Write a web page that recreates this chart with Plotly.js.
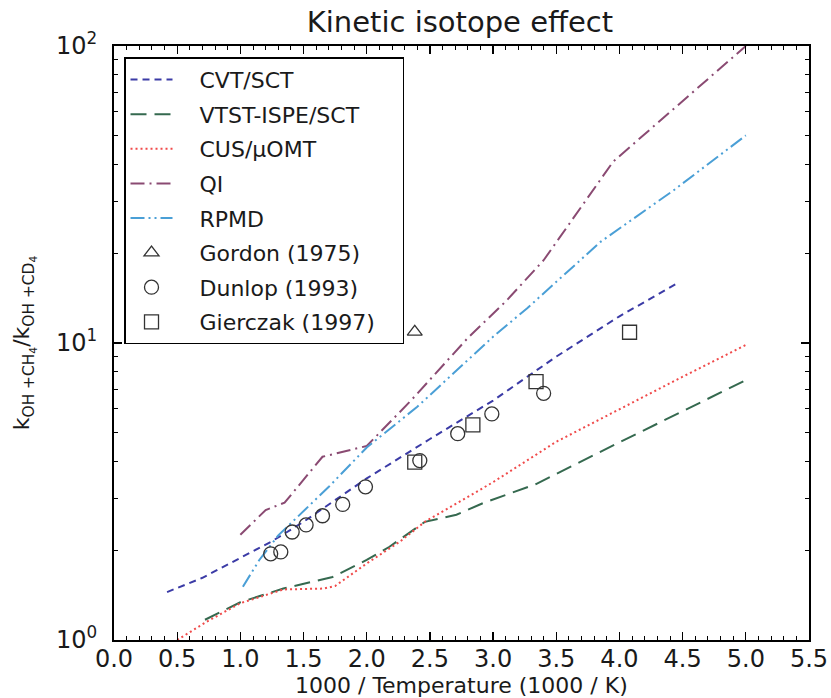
<!DOCTYPE html>
<html>
<head>
<meta charset="utf-8">
<script src="https://cdn.plot.ly/plotly-3.0.1.min.js"></script>
<style>html,body{margin:0;padding:0;background:#fff;}#chart{width:831px;height:698px;}</style>
</head>
<body>
<div id="chart"></div>
<script>
// ---- data ----
const cvtX  = [0.42, 0.7, 1.0, 1.25, 1.5, 1.75, 2.0, 2.5, 3.0, 3.5, 4.0, 4.47];
const cvtY  = [1.45, 1.62, 1.89, 2.15, 2.5, 2.95, 3.5, 4.75, 6.4, 9.0, 12.3, 16.0];

const vtstX = [0.72, 1.0, 1.34, 1.73, 2.0, 2.18, 2.46, 2.71, 2.92, 3.13, 3.34, 4.0, 5.0];
const vtstY = [1.17, 1.34, 1.49, 1.63, 1.86, 2.06, 2.5, 2.64, 2.89, 3.12, 3.35, 4.63, 7.5];

const cusX  = [0.5, 0.73, 1.0, 1.34, 1.66, 1.75, 2.0, 2.26, 2.46, 3.0, 3.5, 4.0, 4.5, 5.0];
const cusY  = [1.0, 1.15, 1.33, 1.48, 1.49, 1.52, 1.81, 2.14, 2.5, 3.4, 4.65, 6.0, 7.7, 9.85];

const qiX   = [1.0, 1.2, 1.35, 1.65, 2.0, 2.35, 2.8, 3.1, 3.4, 3.75, 3.95, 5.0];
const qiY   = [2.26, 2.74, 2.9, 4.14, 4.5, 6.4, 10.4, 13.8, 19.0, 31.0, 40.8, 100];

const rpmdX = [1.02, 1.15, 1.3, 1.7, 2.0, 2.4, 3.0, 3.27, 3.85, 4.43, 5.0];
const rpmdY = [1.51, 1.86, 2.25, 3.28, 4.45, 6.1, 10.5, 13.1, 21.9, 32.7, 50];

const gordonX = [2.38];
const gordonY = [10.9];

const dunlopX = [1.24, 1.32, 1.41, 1.52, 1.65, 1.81, 1.99, 2.42, 2.72, 2.99, 3.40];
const dunlopY = [1.95, 1.98, 2.31, 2.44, 2.62, 2.86, 3.28, 4.02, 4.95, 5.77, 6.77];

const gierczakX = [2.38, 2.84, 3.34, 4.08];
const gierczakY = [3.97, 5.30, 7.41, 10.87];

const names = ['CVT/SCT', 'VTST-ISPE/SCT', 'CUS/\u03bcOMT', 'QI', 'RPMD',
               'Gordon (1975)', 'Dunlop (1993)', 'Gierczak (1997)'];

const xTitle = '1000 / Temperature (1000 / K)';
const xTickVals = [0, 0.5, 1, 1.5, 2, 2.5, 3, 3.5, 4, 4.5, 5, 5.5];
const yTickVals = [1, 10, 100];
const yTickText = ['10<sup>0</sup>', '10<sup>1</sup>', '10<sup>2</sup>'];
const yMinorVals = [2,3,4,5,6,7,8,9,20,30,40,50,60,70,80,90];

// legend label padding (em spaces) to reproduce the reference's wider gap
const pad = s => '\u2003' + s + '\u2003';

// ---- traces ----
function lineTrace(x, y, name, color, dash, g) {
  return {x: x, y: y, name: pad(name), type: 'scatter', mode: 'lines',
          legendgroup: g, line: {color: color, dash: dash, width: 2}};
}
function markTrace(x, y, name, symbol, size, g) {
  return {x: x, y: y, name: pad(name), type: 'scatter', mode: 'markers', legendgroup: g,
          marker: {symbol: symbol, size: size, color: '#333333', line: {width: 1.3, color: '#333333'}}};
}

const data = [
  lineTrace(cvtX, cvtY, names[0], '#3b3ba6', '7px,5px', 'a'),
  lineTrace(vtstX, vtstY, names[1], '#35694f', '16px,8px', 'b'),
  lineTrace(cusX, cusY, names[2], '#f04a4a', '2px,3px', 'c'),
  lineTrace(qiX, qiY, names[3], '#8a4a72', '14px,5px,2px,5px', 'd'),
  lineTrace(rpmdX, rpmdY, names[4], '#4a9fd6', '14px,4px,2px,4px,2px,4px', 'e'),
  markTrace(gordonX, gordonY, names[5], 'triangle-up-open', 13, 'f'),
  markTrace(dunlopX, dunlopY, names[6], 'circle-open', 14, 'g'),
  markTrace(gierczakX, gierczakY, names[7], 'square-open', 14, 'h')
];

const layout = {
  width: 831, height: 698,
  margin: {l: 114, r: 22, t: 46, b: 58},
  paper_bgcolor: '#ffffff', plot_bgcolor: '#ffffff',
  font: {family: 'DejaVu Sans', color: '#1a1a1a'},
  title: {text: 'Kinetic isotope effect', font: {size: 29, color: '#1a1a1a'},
          x: 0.5535, xanchor: 'center', y: 0.968, yanchor: 'middle'},
  showlegend: true,
  legend: {x: 0.0144, y: 0.981, xanchor: 'left', yanchor: 'top',
           bgcolor: '#ffffff', bordercolor: '#000000', borderwidth: 1.5,
           font: {size: 22, color: '#1a1a1a'}, itemwidth: 42,
           traceorder: 'grouped', tracegroupgap: 3},
  annotations: [{
    text: xTitle, xref: 'paper', yref: 'paper', x: 0.5, y: -0.0767,
    xanchor: 'center', yanchor: 'middle', showarrow: false, borderpad: 0,
    font: {size: 22, color: '#1a1a1a'}
  }],
  xaxis: {
    range: [0, 5.5], tickmode: 'array', tickvals: xTickVals,
    ticktext: xTickVals.map(v => v.toFixed(1)),
    ticks: 'inside', ticklen: 8, tickwidth: 1.2, tickcolor: '#000',
    minor: {dtick: 0.1, tick0: 0, ticks: 'inside', ticklen: 4, tickwidth: 1, tickcolor: '#000'},
    showline: true, linecolor: '#000', linewidth: 2, mirror: 'allticks',
    showgrid: false, zeroline: false,
    tickfont: {size: 24, color: '#1a1a1a'}, ticklabelstandoff: -4
  },
  yaxis: {
    type: 'log', range: [0, 2], tickmode: 'array', tickvals: yTickVals, ticktext: yTickText,
    ticks: 'inside', ticklen: 8, tickwidth: 1.2, tickcolor: '#000',
    minor: {tickmode: 'array', tickvals: yMinorVals, ticks: 'inside', ticklen: 4, tickwidth: 1, tickcolor: '#000'},
    showline: true, linecolor: '#000', linewidth: 2, mirror: 'allticks',
    showgrid: false, zeroline: false,
    tickfont: {size: 24, color: '#1a1a1a'}, ticklabelstandoff: 10,
    title: {text: 'k<sub>OH +CH<sub>4</sub></sub>/k<sub>OH +CD<sub>4</sub></sub>',
            font: {size: 22, color: '#1a1a1a'}, standoff: 20}
  }
};

Plotly.newPlot('chart', data, layout, {displayModeBar: false, staticPlot: true});
</script>
</body>
</html>
